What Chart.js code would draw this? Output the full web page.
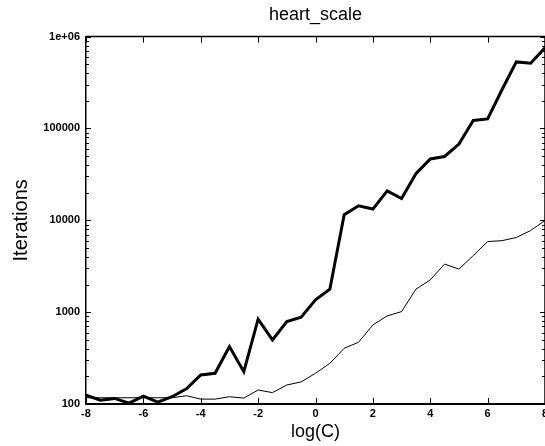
<!DOCTYPE html>
<html>
<head>
<meta charset="utf-8">
<script src="https://cdn.jsdelivr.net/npm/chart.js@4.4.1/dist/chart.umd.min.js"></script>
<style>
  html, body { margin: 0; padding: 0; overflow: hidden; background: #fff; }
  #wrap { width: 545px; height: 446px; overflow: hidden; position: relative; }
  canvas { display: block; }
</style>
</head>
<body>
<div id="wrap"><canvas id="c" width="606" height="446" style="width:606px;height:446px"></canvas></div>
<script>
// ---- data ----
const logC = [-8, -7.5, -7, -6.5, -6, -5.5, -5, -4.5, -4, -3.5, -3, -2.5, -2, -1.5, -1, -0.5,
              0, 0.5, 1, 1.5, 2, 2.5, 3, 3.5, 4, 4.5, 5, 5.5, 6, 6.5, 7, 7.5, 8];
const iterationsThick = [125, 110, 115, 102, 122, 105, 120, 146, 207, 216, 422, 225, 838, 498, 789, 881,
                         1361, 1778, 11480, 14390, 13250, 20900, 17290, 32100, 46500, 49500, 67600,
                         122000, 127000, 264000, 530000, 512000, 754000];
const iterationsThin = [117, 117, 117, 117, 117, 117, 117, 123, 113, 113, 120, 116, 142, 133, 161, 174,
                        216, 277, 404, 470, 726, 910, 1014, 1778, 2245, 3337, 2940, 4130, 5870, 6000,
                        6500, 7740, 9950];
const xTicks = [-8, -6, -4, -2, 0, 2, 4, 6, 8];
const yMajorTicks = [100, 1000, 10000, 100000, 1000000];
const yMajorLabels = ['100', '1000', '10000', '100000', '1e+06'];
const yMinorFactors = [2, 3, 4, 5, 6, 7, 8, 9];

const yAllTicks = [];
yMajorTicks.forEach((d, i) => {
  yAllTicks.push(d);
  if (i < yMajorTicks.length - 1) yMinorFactors.forEach(f => yAllTicks.push(d * f));
});

const FONT = "'Liberation Sans', Arial, Helvetica, sans-serif";

const tickMarks = {
  id: 'tickMarks',
  afterDatasetsDraw(chart) {
    const { ctx, chartArea: a, scales: { x, y } } = chart;
    ctx.save();
    ctx.strokeStyle = '#000';
    ctx.lineWidth = 1;
    ctx.beginPath();
    x.ticks.forEach(t => {
      const px = Math.round(x.getPixelForValue(t.value)) + 0.5;
      ctx.moveTo(px, a.bottom); ctx.lineTo(px, a.bottom - 6);
      ctx.moveTo(px, a.top); ctx.lineTo(px, a.top + 6);
    });
    y.ticks.forEach(t => {
      const py = Math.round(y.getPixelForValue(t.value)) + 0.5;
      const len = yMajorTicks.includes(t.value) ? 5 : 3;
      ctx.moveTo(a.left, py); ctx.lineTo(a.left + len, py);
      ctx.moveTo(a.right, py); ctx.lineTo(a.right - len, py);
    });
    ctx.stroke();
    ctx.lineWidth = 1.5;
    ctx.beginPath();
    ctx.moveTo(a.left, a.top); ctx.lineTo(a.right, a.top);
    ctx.moveTo(a.right, a.top); ctx.lineTo(a.right, a.bottom);
    ctx.stroke();
    ctx.restore();
  }
};

new Chart(document.getElementById('c'), {
  type: 'line',
  data: {
    datasets: [
      {
        data: logC.map((v, i) => ({ x: v, y: iterationsThick[i] })),
        borderColor: '#000', borderWidth: 3, pointRadius: 0, tension: 0, fill: false
      },
      {
        data: logC.map((v, i) => ({ x: v, y: iterationsThin[i] })),
        borderColor: '#000', borderWidth: 1, pointRadius: 0, tension: 0, fill: false
      }
    ]
  },
  options: {
    responsive: false,
    animation: false,
    devicePixelRatio: 1,
    layout: { padding: { left: 0, right: 61, top: 0, bottom: 0 } },
    plugins: {
      legend: { display: false },
      tooltip: { enabled: false },
      title: {
        display: true,
        text: 'heart_scale',
        fullSize: false,
        color: '#000',
        font: { family: FONT, size: 18, weight: 'normal' },
        padding: { top: 4, bottom: 11 }
      }
    },
    scales: {
      x: {
        type: 'linear',
        min: -8, max: 8,
        afterBuildTicks: s => { s.ticks = xTicks.map(v => ({ value: v })); },
        afterFit: s => { s.height = 42; },
        grid: { display: false, drawTicks: false },
        border: { display: true, color: '#000', width: 2 },
        ticks: { color: '#000', font: { family: FONT, size: 11, weight: 'bold' }, padding: 3, maxRotation: 0, autoSkip: false },
        title: { display: true, text: 'log(C)', color: '#000', font: { family: FONT, size: 18 }, padding: { top: 0, bottom: 3 } }
      },
      y: {
        type: 'logarithmic',
        min: 100, max: 1000000,
        afterBuildTicks: s => { s.ticks = yAllTicks.map(v => ({ value: v })); },
        afterFit: s => { s.width = 86; },
        grid: { display: false, drawTicks: false },
        border: { display: true, color: '#000', width: 1.5 },
        ticks: {
          color: '#000', font: { family: FONT, size: 11, weight: 'bold' }, padding: 6, autoSkip: false,
          callback: v => { const i = yMajorTicks.indexOf(v); return i >= 0 ? yMajorLabels[i] : ''; }
        },
        title: { display: true, text: 'Iterations', color: '#000', font: { family: FONT, size: 20 }, padding: { top: 9, bottom: 0 } }
      }
    }
  },
  plugins: [tickMarks]
});
</script>
</body>
</html>
